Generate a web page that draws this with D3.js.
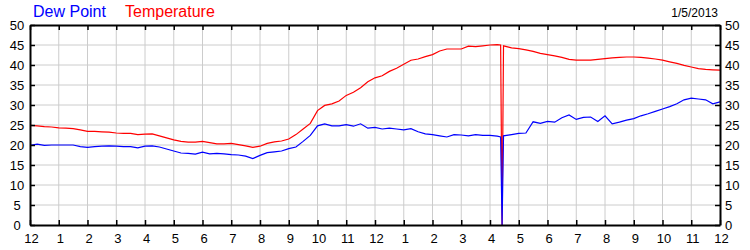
<!DOCTYPE html>
<html>
<head>
<meta charset="utf-8">
<script src="https://cdn.jsdelivr.net/npm/d3@7"></script>
<style>
  body { margin: 0; background: #fff; }
  text { font-family: "Liberation Sans", Arial, sans-serif; }
</style>
</head>
<body>
<svg id="lineChart"></svg>
<script>
// hours since midnight
let hours = [0,0.25,0.5,0.75,1,1.25,1.5,1.75,2,2.25,2.5,2.75,3,3.25,3.5,3.75,4,4.25,4.5,4.75,
  5,5.25,5.5,5.75,6,6.25,6.5,6.75,7,7.25,7.5,7.75,8,8.25,8.5,8.75,9,9.25,9.5,9.75,
  10,10.25,10.5,10.75,11,11.25,11.5,11.75,12,12.25,12.5,12.75,13,13.25,13.5,13.75,14,14.25,14.5,14.75,
  15,15.25,15.5,15.75,16,16.25,16.37,16.42,16.47,16.75,17,17.25,17.5,17.75,18,18.25,18.5,18.75,19,19.25,
  19.5,19.75,20,20.25,20.5,20.75,21,21.25,21.5,21.75,22,22.25,22.5,22.75,23,23.25,23.5,23.75,24];

let temperature = [24.9,24.8,24.6,24.5,24.3,24.2,24.1,23.8,23.4,23.4,23.3,23.2,23.0,22.9,22.9,22.6,22.7,22.8,22.3,21.8,
  21.3,20.9,20.7,20.7,20.9,20.6,20.3,20.3,20.4,20.1,19.8,19.4,19.7,20.4,20.8,21.0,21.5,22.6,24.0,25.4,
  28.6,29.9,30.3,31.0,32.4,33.2,34.3,35.8,36.8,37.3,38.4,39.2,40.2,41.2,41.5,42.1,42.6,43.5,44.0,44.0,
  44.0,44.7,44.6,44.8,45.0,45.1,45.0,0,44.8,44.3,44.1,43.8,43.4,42.9,42.6,42.3,41.9,41.4,41.2,41.2,
  41.2,41.4,41.6,41.8,41.9,42.0,42.0,41.9,41.7,41.5,41.2,40.8,40.4,39.9,39.5,39.1,38.9,38.8,38.7];

let dewPoint = [19.9,20.2,19.9,20.0,20.0,20.0,20.0,19.6,19.4,19.6,19.7,19.8,19.7,19.6,19.6,19.3,19.7,19.8,19.5,19.0,
  18.5,18.0,17.9,17.7,18.2,17.8,17.9,17.8,17.6,17.5,17.2,16.6,17.4,18.1,18.3,18.5,19.1,19.5,20.9,22.4,
  24.8,25.3,24.8,24.8,25.1,24.7,25.3,24.2,24.4,24.0,24.2,24.0,23.8,24.1,23.3,22.8,22.6,22.3,22.0,22.6,
  22.5,22.3,22.6,22.4,22.4,22.2,22.0,0,22.3,22.6,22.9,23.0,25.8,25.4,25.9,25.7,26.8,27.5,26.4,26.9,
  27.0,25.9,27.3,25.3,25.7,26.2,26.6,27.3,27.8,28.4,29.0,29.6,30.3,31.3,31.7,31.5,31.3,30.3,30.8];

let hourLabels = ["12","1","2","3","4","5","6","7","8","9","10","11","12","1","2","3","4","5","6","7","8","9","10","11","12"];
let yTicks = [0,5,10,15,20,25,30,35,40,45,50];
let dateLabel = "1/5/2013";

let margin = {top: 25, right: 30, bottom: 25, left: 30},
  width = 750 - margin.left - margin.right,
  height = 250 - margin.top - margin.bottom;

let x = d3.scaleLinear().domain([0, 24]).range([0, width]);
let y = d3.scaleLinear().domain([0, 50]).range([height, 0]);

let root = d3.select("#lineChart")
  .attr("width", 750)
  .attr("height", 250);

let svg = root.append("g")
    .attr("transform", "translate(" + margin.left + "," + margin.top + ")");

// grid
svg.append("g")
  .selectAll("line")
  .data(d3.range(1, 24))
  .enter().append("line")
    .attr("x1", d => x(d)).attr("x2", d => x(d))
    .attr("y1", 0).attr("y2", height)
    .attr("stroke", "#cccccc");

svg.append("g")
  .selectAll("line")
  .data(yTicks.slice(1, -1))
  .enter().append("line")
    .attr("x1", 0).attr("x2", width)
    .attr("y1", d => y(d)).attr("y2", d => y(d))
    .attr("stroke", "#cccccc");

// lines
let points = hours.map((h, i) => ({h: h, t: temperature[i], d: dewPoint[i]}));

let tempLine = d3.line().x(d => x(d.h)).y(d => y(d.t));
let dewLine = d3.line().x(d => x(d.h)).y(d => y(d.d));

svg.append("path")
  .datum(points)
  .attr("fill", "none")
  .attr("stroke", "#ff0000")
  .attr("stroke-width", 1.2)
  .attr("d", tempLine);

svg.append("path")
  .datum(points)
  .attr("fill", "none")
  .attr("stroke", "#0000ff")
  .attr("stroke-width", 1.2)
  .attr("d", dewLine);

// axes, ticks pointing inward
let hourVals = d3.range(0, 25);

let bottomAxis = svg.append("g")
  .attr("transform", "translate(0," + height + ")")
  .call(d3.axisBottom(x).tickValues(hourVals).tickSizeInner(-5).tickSizeOuter(0)
    .tickFormat((d, i) => hourLabels[i]));
bottomAxis.selectAll("text").attr("dy", 0).attr("y", 18).attr("dx", 1).attr("font-size", 13);

let topAxis = svg.append("g")
  .call(d3.axisTop(x).tickValues(hourVals).tickSizeInner(-5).tickSizeOuter(0).tickFormat(""));

let leftAxis = svg.append("g")
  .call(d3.axisLeft(y).tickValues(yTicks).tickSizeInner(-5).tickSizeOuter(0));
leftAxis.selectAll("text").attr("x", -13).attr("text-anchor", "middle").attr("font-size", 13);

let rightAxis = svg.append("g")
  .attr("transform", "translate(" + width + ",0)")
  .call(d3.axisRight(y).tickValues(yTicks).tickSizeInner(-5).tickSizeOuter(0));
rightAxis.selectAll("text").attr("x", 5).attr("font-size", 13);

[bottomAxis, topAxis, leftAxis, rightAxis].forEach(g => {
  g.select(".domain").attr("stroke", "#000").attr("stroke-width", 2);
  g.selectAll(".tick line").attr("stroke", "#000").attr("stroke-width", 1.5);
  g.selectAll("text").attr("fill", "#000").style("font-family", "'Liberation Sans', Arial, sans-serif");
});

// legend + date
root.append("text").attr("x", 33).attr("y", 17).attr("font-size", 16).attr("fill", "#0000ff").text("Dew Point");
root.append("text").attr("x", 125).attr("y", 17).attr("font-size", 16).attr("fill", "#ff0000").text("Temperature");
root.append("text").attr("x", 718).attr("y", 17).attr("font-size", 12).attr("text-anchor", "end").attr("fill", "#000").text(dateLabel);
</script>
</body>
</html>
